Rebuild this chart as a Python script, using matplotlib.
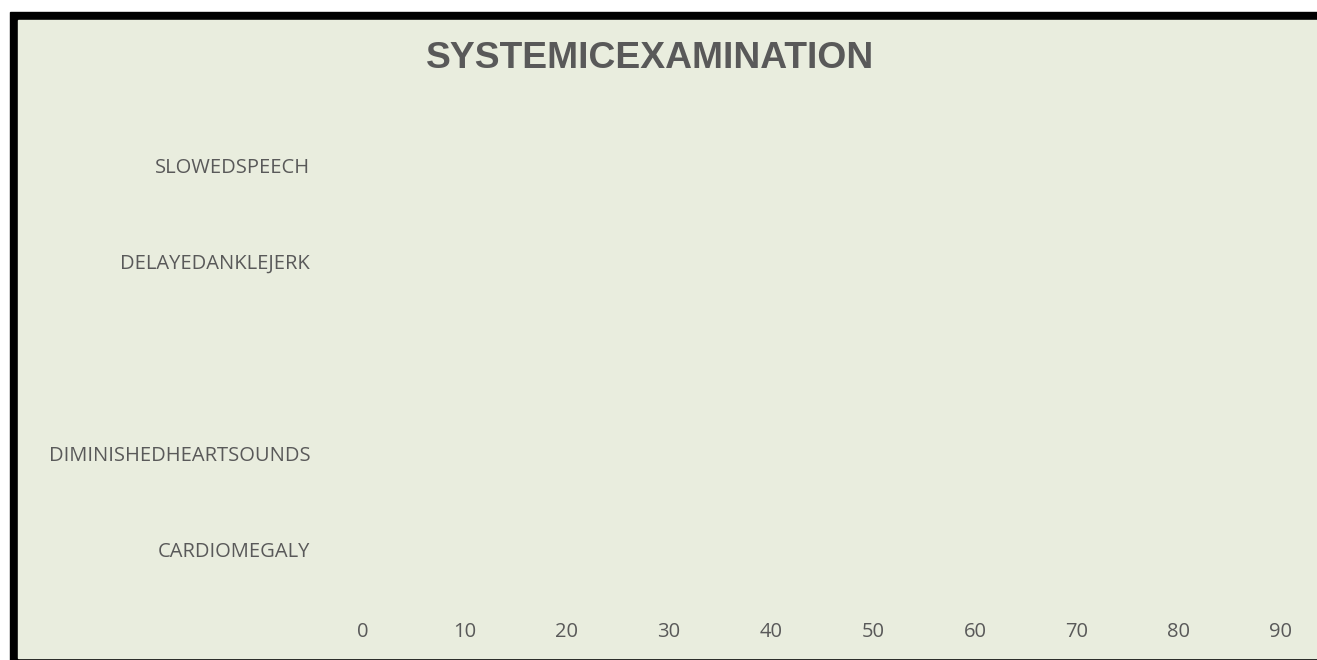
import matplotlib
matplotlib.use("Agg")
import matplotlib.pyplot as plt
from matplotlib.patches import Rectangle

# categories bottom -> top (one slot has no label in the source chart)
categories = ["CARDIOMEGALY", "DIMINISHEDHEARTSOUNDS", "", "DELAYEDANKLEJERK", "SLOWEDSPEECH"]
values = [0, 0, 0, 0, 0]
x_ticks = [0, 10, 20, 30, 40, 50, 60, 70, 80, 90]
title = "SYSTEMICEXAMINATION"

BG = "#E9EDDE"
TXT = "#595959"
W, H = 1317, 660

fig = plt.figure(figsize=(W / 100, H / 100), dpi=100, facecolor="white")

# ── frame: thick black top/left edge, light fill ────────────────────────────
fig.patches.append(Rectangle((10 / W, 0), 1 - 10 / W, 1 - 12 / H,
                             transform=fig.transFigure, color="black", zorder=-2))
fig.patches.append(Rectangle((18 / W, 2 / H), 1 - 18 / W, 1 - 22 / H,
                             transform=fig.transFigure, color=BG, zorder=-1))

ax = fig.add_axes([363 / W, 1 - 598 / H, 918 / W, 481 / H])
ax.set_facecolor("none")
ax.barh(range(len(categories)), values, height=0.6, color="#4F81BD")
ax.set_xlim(0, 90)
ax.set_ylim(-0.5, len(categories) - 0.5)

ax.set_xticks(x_ticks)
ax.set_xticklabels([str(t) for t in x_ticks])
ax.set_yticks(range(len(categories)))
ax.set_yticklabels(categories)
for spine in ax.spines.values():
    spine.set_visible(False)
ax.tick_params(axis="both", length=0, colors=TXT, labelsize=14.5)
ax.tick_params(axis="y", pad=38)
ax.tick_params(axis="x", pad=17)
for lbl in ax.get_xticklabels() + ax.get_yticklabels():
    lbl.set_fontfamily("Open Sans")

fig.text(650 / W, 1 - 59 / H, title, ha="center", va="center",
         fontsize=26.8, fontweight="bold", color=TXT, family="Liberation Sans")

fig.savefig("out.png", dpi=100, facecolor="white")
